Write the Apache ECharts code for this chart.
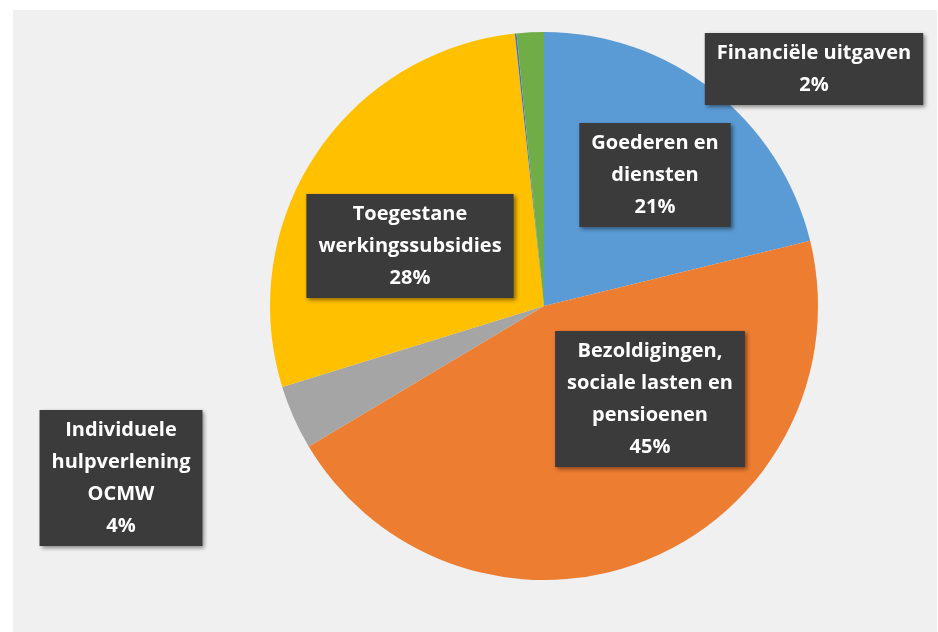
<!DOCTYPE html>
<html>
<head>
<meta charset="utf-8">
<script src="https://cdn.jsdelivr.net/npm/echarts@6/dist/echarts.min.js"></script>
<style>
  html, body { margin: 0; padding: 0; background: #ffffff; }
  #chart { width: 938px; height: 632px; }
</style>
</head>
<body>
<div id="chart"></div>
<script>
// slices, clockwise from 12 o'clock
const names = ['Goederen en diensten', 'Bezoldigingen, sociale lasten en pensioenen', 'Individuele hulpverlening OCMW', 'Toegestane werkingssubsidies', 'Overige', 'Financiële uitgaven']
const labelText = ['Goederen en\ndiensten', 'Bezoldigingen,\nsociale lasten en\npensioenen', 'Individuele\nhulpverlening\nOCMW', 'Toegestane\nwerkingssubsidies', '', 'Financiële uitgaven']
const values = [21.2, 45.3, 3.8, 28.1, 0.1, 1.6]
const colors = ['#5b9bd5', '#ed7d31', '#a5a5a5', '#ffc000', '#4472c4', '#70ad47']

// where each label box sits (centre of the box)
const labelPos = [[655, 175], [650, 399], [121, 478], [410, 246], null, [814, 69]]

const chart = echarts.init(document.getElementById('chart'))

const seriesData = names.map((n, i) => ({
    name: n,
    value: values[i],
    itemStyle: { color: colors[i] },
    label: { show: labelText[i] !== '' }
}))

const options = {
    backgroundColor: '#ffffff',
    animation: false,
    graphic: [
        {
            type: 'rect',
            z: -10,
            shape: { x: 13, y: 10, width: 924, height: 622 },
            style: { fill: '#f0f0f0' }
        }
    ],
    series: [
        {
            type: 'pie',
            center: [544, 306],
            radius: 274,
            startAngle: 90,
            clockwise: true,
            label: {
                position: 'inside',
                formatter: (p) => labelText[p.dataIndex] + '\n' + Math.round(p.percent) + '%',
                color: '#ffffff',
                fontFamily: 'Open Sans',
                fontWeight: 'bold',
                fontSize: 20,
                lineHeight: 32,
                align: 'center',
                backgroundColor: '#3b3b3b',
                padding: [5, 12, 3, 12],
                shadowColor: 'rgba(0,0,0,0.45)',
                shadowBlur: 4,
                shadowOffsetX: 2,
                shadowOffsetY: 2
            },
            labelLine: { show: false },
            labelLayout: (p) => {
                const pos = labelPos[p.dataIndex]
                if (!pos) return {}
                return { x: pos[0], y: pos[1], align: 'center', verticalAlign: 'middle' }
            },
            emphasis: { disabled: true },
            data: seriesData
        }
    ]
}
chart.setOption(options)
</script>
</body>
</html>
